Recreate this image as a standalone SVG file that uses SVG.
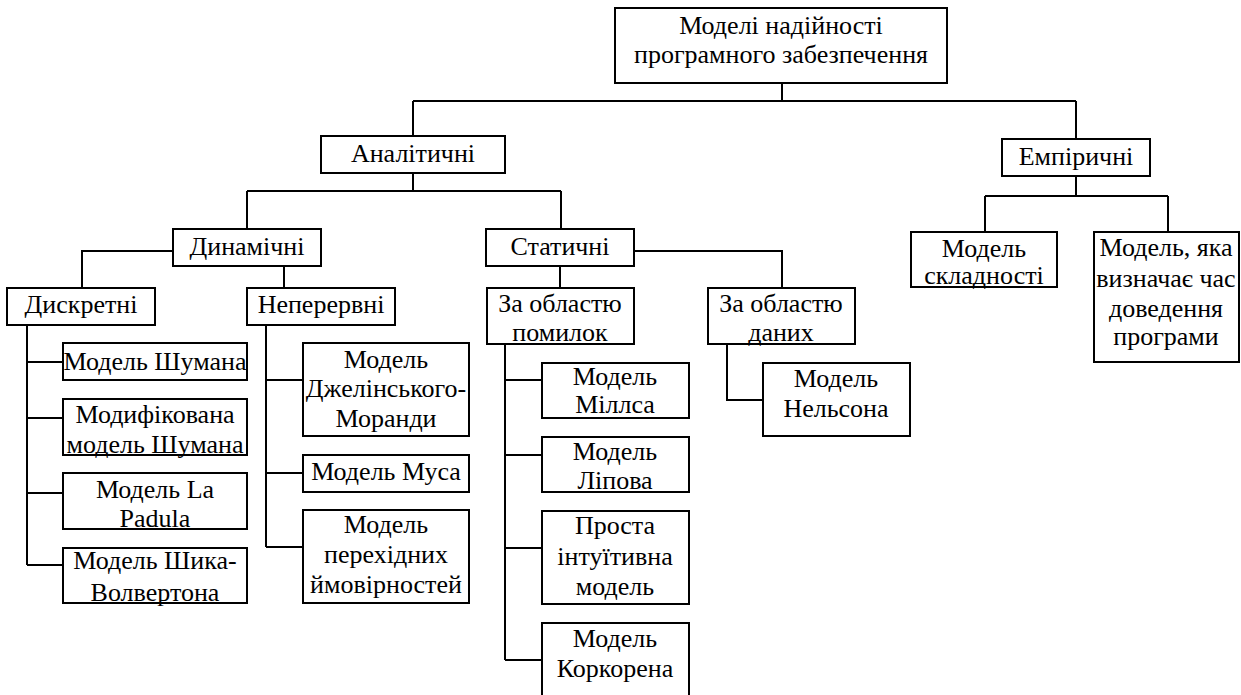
<svg xmlns="http://www.w3.org/2000/svg" width="1241" height="695" viewBox="0 0 1241 695">
<style>
rect{fill:#fff;stroke:#000;stroke-width:2}
.c path{fill:none;stroke:#000;stroke-width:2}
text{font-family:"Liberation Serif","Times New Roman",serif;font-size:26px;fill:#000;text-anchor:middle}
</style>
<rect x="0" y="0" width="1241" height="695" style="stroke:none"/>
<g class="c" id="connectors">
<path d="M782 83V101M413 101H1076M413 101V136M1076 101V139"/>
<path d="M413 173V191M247 191H561M247 191V229M561 191V229"/>
<path d="M1076 176V196M985 196H1168M985 196V232M1168 196V232"/>
<path d="M173 251H82V288M284 266V288"/>
<path d="M634 251H782V288M560 266V288"/>
<path d="M27 325V565M27 362H63M27 418H63M27 493H63M27 565H63"/>
<path d="M266 325V547M266 380H303M266 473H303M266 547H303"/>
<path d="M505 344V660M505 380H542M505 455H542M505 548H542M505 660H542"/>
<path d="M727 344V400H763"/>
</g>
<g id="root"><rect x="615" y="8" width="332" height="75"/><text x="781" y="34">Моделі надійності</text><text x="781" y="63">програмного забезпечення</text></g>
<g id="analytic"><rect x="321" y="136" width="184" height="37"/><text x="413" y="162">Аналітичні</text></g>
<g id="empirical"><rect x="1002" y="139" width="148" height="37"/><text x="1076" y="165">Емпіричні</text></g>
<g id="dynamic"><rect x="173" y="229" width="148" height="37"/><text x="247" y="255">Динамічні</text></g>
<g id="static"><rect x="486" y="229" width="148" height="37"/><text x="560" y="255">Статичні</text></g>
<g id="discrete"><rect x="7" y="288" width="148" height="37"/><text x="81" y="313">Дискретні</text></g>
<g id="continuous"><rect x="247" y="288" width="148" height="37"/><text x="321" y="313">Неперервні</text></g>
<g id="errors"><rect x="487" y="288" width="147" height="56"/><text x="560" y="312">За областю</text><text x="560" y="341">помилок</text></g>
<g id="data"><rect x="708" y="288" width="147" height="56"/><text x="781" y="312">За областю</text><text x="781" y="341">даних</text></g>
<g id="shuman"><rect x="63" y="343" width="184" height="37"/><text x="155" y="370">Модель Шумана</text></g>
<g id="mod-shuman"><rect x="63" y="399" width="184" height="56"/><text x="155" y="423">Модифікована</text><text x="155" y="453">модель Шумана</text></g>
<g id="lapadula"><rect x="63" y="473" width="184" height="56"/><text x="155" y="498">Модель La</text><text x="155" y="527">Padula</text></g>
<g id="shick"><rect x="63" y="548" width="184" height="55"/><text x="155" y="569">Модель Шика-</text><text x="155" y="601">Волвертона</text></g>
<g id="jelinski"><rect x="303" y="343" width="166" height="93"/><text x="386" y="368">Модель</text><text x="386" y="397">Джелінського-</text><text x="386" y="427">Моранди</text></g>
<g id="musa"><rect x="303" y="455" width="166" height="37"/><text x="386" y="480">Модель Муса</text></g>
<g id="transition"><rect x="303" y="510" width="166" height="93"/><text x="386" y="533">Модель</text><text x="386" y="563">перехідних</text><text x="386" y="593">ймовірностей</text></g>
<g id="mills"><rect x="542" y="363" width="147" height="55"/><text x="615" y="385">Модель</text><text x="615" y="413">Міллса</text></g>
<g id="lipov"><rect x="542" y="437" width="147" height="55"/><text x="615" y="460">Модель</text><text x="615" y="489">Лiпова</text></g>
<g id="intuitive"><rect x="542" y="511" width="147" height="93"/><text x="615" y="534">Проста</text><text x="615" y="565">інтуїтивна</text><text x="615" y="595">модель</text></g>
<g id="corcoran"><rect x="542" y="623" width="147" height="74"/><text x="615" y="647">Модель</text><text x="615" y="677">Коркорена</text></g>
<g id="nelson"><rect x="763" y="363" width="147" height="73"/><text x="836" y="387">Модель</text><text x="836" y="417">Нельсона</text></g>
<g id="complexity"><rect x="911" y="232" width="146" height="55"/><text x="984" y="257">Модель</text><text x="984" y="284">складності</text></g>
<g id="debug-time"><rect x="1094" y="232" width="145" height="130"/><text x="1166" y="256">Модель, яка</text><text x="1166" y="287">визначає час</text><text x="1166" y="317">доведення</text><text x="1166" y="345">програми</text></g>
</svg>
